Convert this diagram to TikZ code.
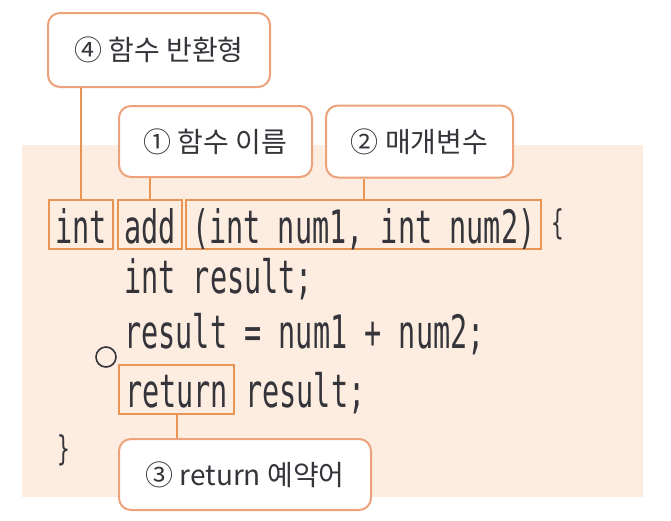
\documentclass[tikz,border=0pt]{standalone}
\usepackage{fontspec}
\usepackage{graphicx}
\usepackage{tikz}
\newfontfamily\krfont{Noto Sans CJK KR}
\newfontfamily\codefont{DejaVu Sans Mono}[WordSpace={1,0,0}]
\definecolor{bgbeige}{RGB}{253,237,224}
\definecolor{tagorange}{RGB}{236,162,122}
\definecolor{linkorange}{RGB}{232,148,84}
\definecolor{inkgray}{RGB}{52,52,58}
\newcommand{\sqz}[1]{\scalebox{0.62}[1]{#1}}
\frenchspacing
\tikzset{
  code/.style={font=\codefont\fontsize{46}{46}\selectfont, text=inkgray},
  codebox/.style={code, draw=linkorange, line width=2pt, inner xsep=6pt, inner ysep=4pt, text height=39pt, text depth=2pt},
  codeline/.style={code, anchor=base west, inner sep=0pt},
  bracechar/.style={code, font=\codefont\fontsize{34}{34}\selectfont, inner sep=0pt},
  tagbox/.style={draw=tagorange, fill=white, rounded corners=12pt, line width=2pt, inner sep=0pt, text=inkgray, font=\krfont\fontsize{28}{28}\selectfont},
  link/.style={draw=linkorange, line width=2pt}
}

\begin{document}
\begin{tikzpicture}[x=1pt, y=-1pt]
\useasboundingbox (0,0) rectangle (671,520);
\fill[bgbeige] (22,145) rectangle (643,497);

% code
\node[codebox, anchor=west] (int) at (48,224.5) {\sqz{int}};
\node[codebox, anchor=west] (add) at (117,224.5) {\sqz{add}};
\node[codebox, anchor=west] (params) at (185,224.5) {\sqz{(int num1, int num2)}};
\node[bracechar] (open) at (557.5,224) {\sqz{\{}};
\node[codeline] (decl) at (124,293) {\sqz{int result;}};
\node[codeline] (sum) at (124,348) {\sqz{result = num1 + num2;}};
\node[codebox, anchor=west] (ret) at (118,389) {\sqz{return}};
\node[codeline] (retval) at (245,407.5) {\sqz{result;}};
\node[bracechar] (close) at (63.5,450) {\sqz{\}}};
\node[circle, draw=inkgray, line width=1.6pt, minimum size=20pt, inner sep=0pt] (mark) at (106,357) {};

% tags
\node[tagbox, minimum width=222pt, minimum height=74pt] (rtype) at (159,50) {④ 함수 반환형};
\node[tagbox, minimum width=193pt, minimum height=71pt] (fname) at (215.5,141.5) {① 함수 이름};
\node[tagbox, minimum width=187pt, minimum height=72pt] (fparam) at (419.5,141.5) {② 매개변수};
\node[tagbox, minimum width=252pt, minimum height=71pt] (kword) at (245,474.5) {③ return 예약어};

\draw[link] (int.north) -- (int.north |- rtype.south);
\draw[link] (add.north) -- (add.north |- fname.south);
\draw[link] (params.north) -- (params.north |- fparam.south);
\draw[link] (ret.south) -- (ret.south |- kword.north);
\end{tikzpicture}
\end{document}
